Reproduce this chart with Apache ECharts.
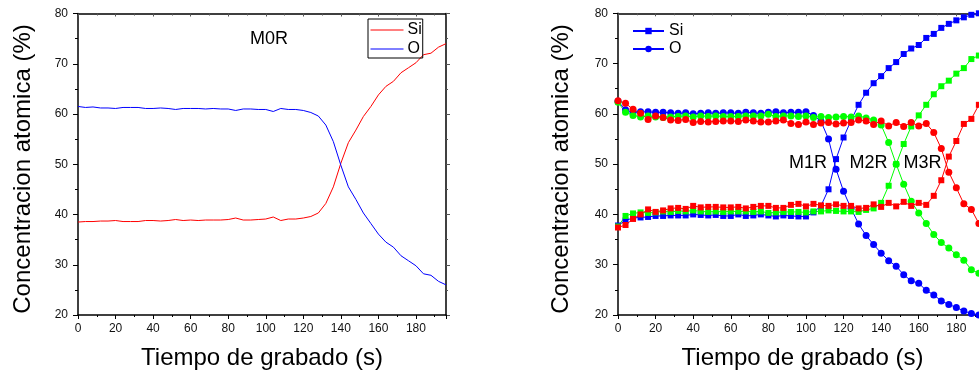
<!DOCTYPE html>
<html>
<head>
<meta charset="utf-8">
<script src="https://cdn.jsdelivr.net/npm/echarts@6/dist/echarts.min.js"></script>
<style>
html,body{margin:0;padding:0;background:#fff;overflow:hidden;width:979px;height:372px;}
#left{position:absolute;left:0;top:0;width:490px;height:372px;}
#right{position:absolute;left:490px;top:0;width:500px;height:372px;}
</style>
</head>
<body>
<div id="left"></div>
<div id="right"></div>
<script>
// ---------- Data ----------
const xTicks = [0, 20, 40, 60, 80, 100, 120, 140, 160, 180];
const yTicks = [20, 30, 40, 50, 60, 70, 80];

// Left panel (M0R)
const leftTime = [0,4,8,12,16,20,24,28,32,36,40,44,48,52,56,60,64,68,72,76,80,84,88,92,96,100,104,108,112,116,120,124,128,132,136,140,144,148,152,156,160,164,168,172,176,180,184,188,192,196];
const m0Si = [38.5,38.6,38.6,38.7,38.7,38.8,38.6,38.6,38.6,38.8,38.8,38.7,38.8,39.0,38.8,38.9,38.8,38.9,38.9,38.9,39.0,39.3,38.9,38.9,39.0,39.1,39.5,38.8,39.1,39.1,39.3,39.6,40.3,42.2,45.5,50.2,54.3,56.8,59.5,61.5,63.8,65.5,66.5,68.2,69.2,70.2,71.8,72.1,73.3,74.0];
const m0O  = [61.5,61.3,61.4,61.2,61.2,61.1,61.3,61.3,61.3,61.1,61.1,61.2,61.1,60.9,61.1,61.1,61.1,61.0,61.1,61.0,61.0,60.7,61.0,61.0,60.9,60.9,60.5,61.1,60.9,60.9,60.7,60.3,59.6,57.8,54.5,49.8,45.5,43.0,40.3,38.2,36.1,34.5,33.5,31.8,30.8,29.8,28.2,27.9,26.7,26.0];

// Right panel (M1R, M2R, M3R)
const rightTime = [0,4,8,12,16,20,24,28,32,36,40,44,48,52,56,60,64,68,72,76,80,84,88,92,96,100,104,108,112,116,120,124,128,132,136,140,144,148,152,156,160,164,168,172,176,180,184,188,192];
const m1Si = [37.8,38.8,39.3,39.4,39.5,39.7,39.7,39.8,39.8,39.8,40.0,39.9,39.8,39.9,39.7,39.7,40.0,39.7,39.8,40.0,39.8,39.6,39.8,39.7,39.6,39.6,40.4,41.7,45.0,51.0,55.3,58.7,61.8,64.2,66.1,67.5,69.1,70.3,71.9,73.0,73.7,75.1,75.9,77.1,77.9,78.6,79.2,79.7,80.0];
const m1O  = [62.5,60.8,60.3,60.4,60.4,60.3,60.3,60.2,60.1,60.2,60.0,60.1,60.2,60.1,60.2,60.2,60.1,60.3,60.2,60.1,60.3,60.4,60.2,60.3,60.3,60.4,59.7,58.5,55.0,49.0,44.6,41.2,38.1,35.8,34.0,32.3,30.8,29.7,28.0,26.8,26.3,24.9,24.0,22.8,22.1,21.5,20.8,20.3,20.0];
const m2Si = [37.6,39.7,40.2,40.4,40.3,40.4,40.6,40.5,40.7,40.6,40.8,40.6,40.5,40.6,40.5,40.6,40.6,40.6,40.5,40.6,40.3,40.4,40.5,40.5,40.5,40.4,40.6,40.6,40.8,40.7,40.6,40.6,40.5,40.9,41.2,42.3,45.7,50.0,54.0,57.5,59.7,61.8,63.9,65.5,66.6,68.0,69.1,70.9,71.6];
const m2O  = [62.3,60.3,59.7,59.4,59.6,59.4,59.3,59.4,59.5,59.6,59.4,59.6,59.5,59.6,59.5,59.5,59.5,59.6,59.6,59.6,59.9,59.5,59.6,59.6,59.5,59.6,59.3,59.5,59.3,59.4,59.5,59.4,59.6,59.2,58.8,57.8,54.3,50.0,46.0,42.6,40.3,38.2,36.0,34.4,33.3,32.0,30.9,29.0,28.3];
const m3Si = [37.4,37.9,39.1,40.0,41.0,40.5,40.8,41.2,41.3,41.1,41.7,41.4,41.5,41.5,41.4,41.4,41.5,41.2,41.5,41.7,41.7,41.3,41.3,41.9,42.1,41.6,42.1,41.8,41.7,42.0,41.7,41.7,41.2,41.3,42.0,41.5,42.3,41.6,42.5,41.7,42.3,41.9,43.7,46.8,51.5,54.6,58.0,59.0,61.8];
const m3O  = [62.6,62.1,60.9,60.1,58.9,59.6,59.3,58.8,58.7,58.9,58.3,58.5,58.4,58.5,58.6,58.6,58.5,58.8,58.6,58.4,58.4,58.6,58.8,58.1,57.9,58.4,57.9,58.2,58.3,58.0,58.2,58.3,58.8,58.6,57.9,58.6,57.6,58.3,57.5,58.3,57.6,58.1,56.3,53.1,48.4,45.3,42.1,41.0,38.2];

const legendNames = ['Si', 'O'];
const sampleLabels = ['M0R', 'M1R', 'M2R', 'M3R'];
const xTitle = 'Tiempo de grabado (s)';
const yTitle = 'Concentracion atomica (%)';

// ---------- Helpers ----------
const FONT = '"Liberation Sans", Arial, sans-serif';
const pairs = (t, v) => t.map((x, i) => [x, v[i]]);
const tickFmt = v => (xTicks.indexOf(v) >= 0 ? String(v) : '');
const yFmt = v => (yTicks.indexOf(v) >= 0 ? String(v) : '');

function axesFor(xMax, mirrorRight) {
  const base = {
    type: 'value',
    axisLine: {show: true, onZero: false, lineStyle: {color: '#000', width: 1.5}},
    splitLine: {show: false}
  };
  const xAxis = [
    Object.assign({}, base, {
      position: 'bottom', min: 0, max: xMax, interval: 20,
      axisTick: {show: true, length: 4, lineStyle: {color: '#000', width: 1}},
      minorTick: {show: true, splitNumber: 2, length: 2, lineStyle: {color: '#000', width: 1}},
      axisLabel: {show: true, margin: 8, fontFamily: FONT, fontSize: 12, color: '#111', formatter: tickFmt, showMaxLabel: false}
    }),
    Object.assign({}, base, {
      position: 'top', min: 0, max: xMax, interval: 20,
      axisTick: {show: true, inside: true, length: 3, lineStyle: {color: '#555', width: 1}},
      minorTick: {show: true, splitNumber: 2, length: 2, lineStyle: {color: '#555', width: 1}},
      axisLabel: {show: false}
    })
  ];
  const yAxis = [
    Object.assign({}, base, {
      position: 'left', min: 20, max: 80, interval: 10,
      axisTick: {show: true, length: 5, lineStyle: {color: '#000', width: 1}},
      minorTick: {show: true, splitNumber: 2, length: 3, lineStyle: {color: '#000', width: 1}},
      axisLabel: {show: true, margin: 10, fontFamily: FONT, fontSize: 12, color: '#111', formatter: yFmt}
    })
  ];
  if (mirrorRight) {
    yAxis.push(Object.assign({}, base, {
      position: 'right', min: 20, max: 80, interval: 10,
      axisTick: {show: true, length: 4, lineStyle: {color: '#555', width: 1}},
      minorTick: {show: true, splitNumber: 2, length: 2, lineStyle: {color: '#555', width: 1}},
      axisLabel: {show: false}
    }));
  }
  return {xAxis, yAxis};
}

function titleGraphics(xCenterX, yCenterX) {
  return [
    {type: 'text', x: xCenterX, y: 358, style: {text: xTitle, font: '24px ' + FONT, fill: '#000', align: 'center', verticalAlign: 'middle'}},
    {type: 'text', x: yCenterX, y: 169, rotation: Math.PI / 2, style: {text: yTitle, font: '24px ' + FONT, fill: '#000', align: 'center', verticalAlign: 'middle'}}
  ];
}

// ---------- Left chart ----------
const leftChart = echarts.init(document.getElementById('left'), null, {renderer: 'canvas'});
const la = axesFor(196, true);
leftChart.setOption({
  animation: false,
  backgroundColor: '#fff',
  grid: {left: 78, right: 44, top: 13.5, bottom: 57, containLabel: false},
  xAxis: la.xAxis,
  yAxis: la.yAxis,
  legend: {
    orient: 'vertical', left: 368, top: 19,
    data: legendNames,
    itemWidth: 33, itemHeight: 14, itemGap: 3,
    padding: [3, 1, 1, 2],
    borderColor: '#000', borderWidth: 1,
    itemStyle: {opacity: 0},
    lineStyle: {width: 1},
    textStyle: {fontFamily: FONT, fontSize: 16, color: '#000', padding: [0, 0, 0, -1]}
  },
  graphic: titleGraphics(262, 23).concat([
    {type: 'text', x: 269, y: 39, style: {text: sampleLabels[0], font: '18px ' + FONT, fill: '#000', align: 'center', verticalAlign: 'middle'}}
  ]),
  series: [
    {name: legendNames[0], type: 'line', data: pairs(leftTime, m0Si), symbol: 'none', lineStyle: {color: '#ff0000', width: 1}, itemStyle: {color: '#ff0000'}},
    {name: legendNames[1], type: 'line', data: pairs(leftTime, m0O), symbol: 'none', lineStyle: {color: '#0000ff', width: 1}, itemStyle: {color: '#0000ff'}}
  ]
});

// ---------- Right chart ----------
const rightChart = echarts.init(document.getElementById('right'), null, {renderer: 'canvas'});
const ra = axesFor(196, false);
function markerSeries(name, vals, color, shape) {
  return {
    name, type: 'line', data: pairs(rightTime, vals),
    symbol: shape, symbolSize: shape === 'rect' ? 6 : 7,
    clip: false,
    lineStyle: {color, width: 1}, itemStyle: {color}
  };
}
rightChart.setOption({
  animation: false,
  backgroundColor: '#fff',
  grid: {left: 128, right: 3.6, top: 13.3, bottom: 57, containLabel: false},
  xAxis: ra.xAxis,
  yAxis: ra.yAxis,
  legend: {
    orient: 'vertical', left: 142, top: 23,
    data: legendNames,
    itemWidth: 31, itemHeight: 8, itemGap: 2,
    padding: 0,
    textStyle: {fontFamily: FONT, fontSize: 16, color: '#000'}
  },
  graphic: titleGraphics(312.5, 71).concat([
    {type: 'text', x: 318, y: 163, style: {text: sampleLabels[1], font: '18px ' + FONT, fill: '#000', align: 'center', verticalAlign: 'middle'}},
    {type: 'text', x: 378.5, y: 163, style: {text: sampleLabels[2], font: '18px ' + FONT, fill: '#000', align: 'center', verticalAlign: 'middle'}},
    {type: 'text', x: 432.5, y: 163, style: {text: sampleLabels[3], font: '18px ' + FONT, fill: '#000', align: 'center', verticalAlign: 'middle'}}
  ]),
  series: [
    markerSeries(legendNames[0], m1Si, '#0000ff', 'rect'),
    markerSeries(legendNames[1], m1O, '#0000ff', 'circle'),
    markerSeries('Si ' + sampleLabels[2], m2Si, '#00ff00', 'rect'),
    markerSeries('O ' + sampleLabels[2], m2O, '#00ff00', 'circle'),
    markerSeries('Si ' + sampleLabels[3], m3Si, '#ff0000', 'rect'),
    markerSeries('O ' + sampleLabels[3], m3O, '#ff0000', 'circle')
  ]
});
</script>
</body>
</html>
